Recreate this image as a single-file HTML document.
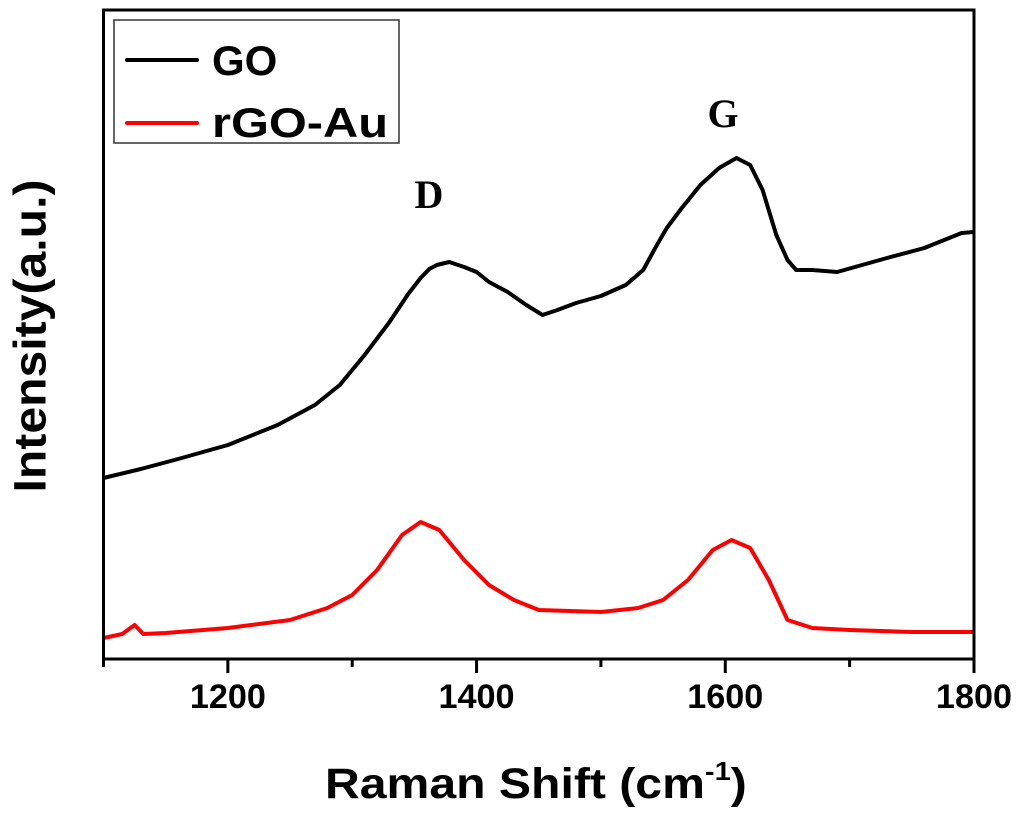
<!DOCTYPE html>
<html><head><meta charset="utf-8"><style>
html,body{margin:0;padding:0;background:#fff;}
svg{display:block;font-family:"Liberation Sans",sans-serif;}
</style></head><body>
<svg id="chart" width="1024" height="820" viewBox="0 0 1024 820" xmlns="http://www.w3.org/2000/svg">
<rect x="0" y="0" width="1024" height="820" fill="#fff"/>
<g id="series"></g>
<rect x="103.5" y="10" width="870.5" height="649" fill="none" stroke="#000" stroke-width="3"/>
<g id="xticks"></g>
<text x="30" y="336" transform="rotate(-90 30 336)" text-anchor="middle" dominant-baseline="central" font-size="45" font-weight="bold" textLength="313" lengthAdjust="spacingAndGlyphs">Intensity(a.u.)</text>
<text x="0" y="0" transform="translate(325 798) scale(1.12 1)" font-size="43" font-weight="bold">Raman Shift (cm<tspan dy="-18" font-size="26">-1</tspan><tspan dy="18">)</tspan></text>
<text x="429" y="208" text-anchor="middle" font-family="Liberation Serif, serif" font-size="40" font-weight="bold">D</text>
<text x="723" y="127" text-anchor="middle" font-family="Liberation Serif, serif" font-size="40" font-weight="bold">G</text>
<g>
<rect x="114" y="20" width="285" height="123" fill="#fff" stroke="#333" stroke-width="1.5"/>
<line x1="127" y1="60" x2="197" y2="60" stroke="#000" stroke-width="4" stroke-linecap="round"/>
<text x="212" y="75" font-size="42" font-weight="bold">GO</text>
<line x1="127" y1="123" x2="197" y2="123" stroke="#ff0000" stroke-width="4" stroke-linecap="round"/>
<text x="212" y="137" font-size="42" font-weight="bold" textLength="176" lengthAdjust="spacingAndGlyphs">rGO-Au</text>
</g>
</svg>
<script>
const goX=[1100,1130,1160,1200,1240,1270,1290,1310,1330,1345,1355,1362,1368,1378,1390,1400,1410,1425,1440,1453,1465,1480,1500,1520,1534,1545,1553,1565,1580,1595,1609,1620,1630,1641,1650,1657,1670,1690,1710,1730,1760,1790,1800];
const goY=[178,187,197,211,231,251,271,301,334,362,378,387,391,394,389,384,374,364,351,341,346,353,360,371,386,411,428,448,471,488,498,491,466,421,396,386,386,384,391,398,408,423,424];
const rgoX=[1100,1115,1125,1132,1150,1200,1250,1280,1300,1320,1340,1355,1370,1390,1410,1430,1450,1500,1530,1550,1570,1590,1605,1620,1635,1650,1670,1700,1750,1800];
const rgoY=[18,22,31,22,23,28,36,48,61,86,121,134,126,96,71,56,46,44,48,56,76,106,116,108,76,36,28,26,24,24];
const xTicks=[1100,1200,1300,1400,1500,1600,1700,1800];
const xTickLabels=["","1200","","1400","","1600","","1800"];
const xMin=1100,xMax=1800,yMin=0,yMax=646;
const L=103.5,R=974,B=656,T=10;
function sx(v){return L+(v-xMin)/(xMax-xMin)*(R-L);}
function sy(v){return B-(v-yMin)/(yMax-yMin)*(B-T);}
const NS="http://www.w3.org/2000/svg";
const series=document.getElementById('series');
function draw(xs,ys,color,name){
  const p=document.createElementNS(NS,'path');
  let d='';
  xs.forEach((x,i)=>{d+=(i?'L':'M')+sx(x).toFixed(1)+','+sy(ys[i]).toFixed(1);});
  p.setAttribute('d',d);
  p.setAttribute('fill','none');
  p.setAttribute('stroke',color);
  p.setAttribute('stroke-width','4');
  p.setAttribute('stroke-linejoin','round');
  
  
  series.appendChild(p);
}
draw(goX,goY,'#000','go-line');
draw(rgoX,rgoY,'#ff0000','rgo-au-line');
const xt=document.getElementById('xticks');
xTicks.forEach((t,i)=>{
  const major=xTickLabels[i]!=="";
  const l=document.createElementNS(NS,'line');
  l.setAttribute('x1',sx(t));l.setAttribute('x2',sx(t));
  l.setAttribute('y1',659);l.setAttribute('y2',major?673:667);
  l.setAttribute('stroke','#000');l.setAttribute('stroke-width','3');
  
  
  xt.appendChild(l);
  if(major){
    const tx=document.createElementNS(NS,'text');
    tx.setAttribute('x',sx(t));tx.setAttribute('y',708);
    tx.setAttribute('text-anchor','middle');
    tx.setAttribute('font-size','34');tx.setAttribute('font-weight','bold');
    tx.setAttribute('textLength','76');tx.setAttribute('lengthAdjust','spacingAndGlyphs');
    tx.textContent=xTickLabels[i];
    
    
    xt.appendChild(tx);
  }
});
</script>
</body></html>
